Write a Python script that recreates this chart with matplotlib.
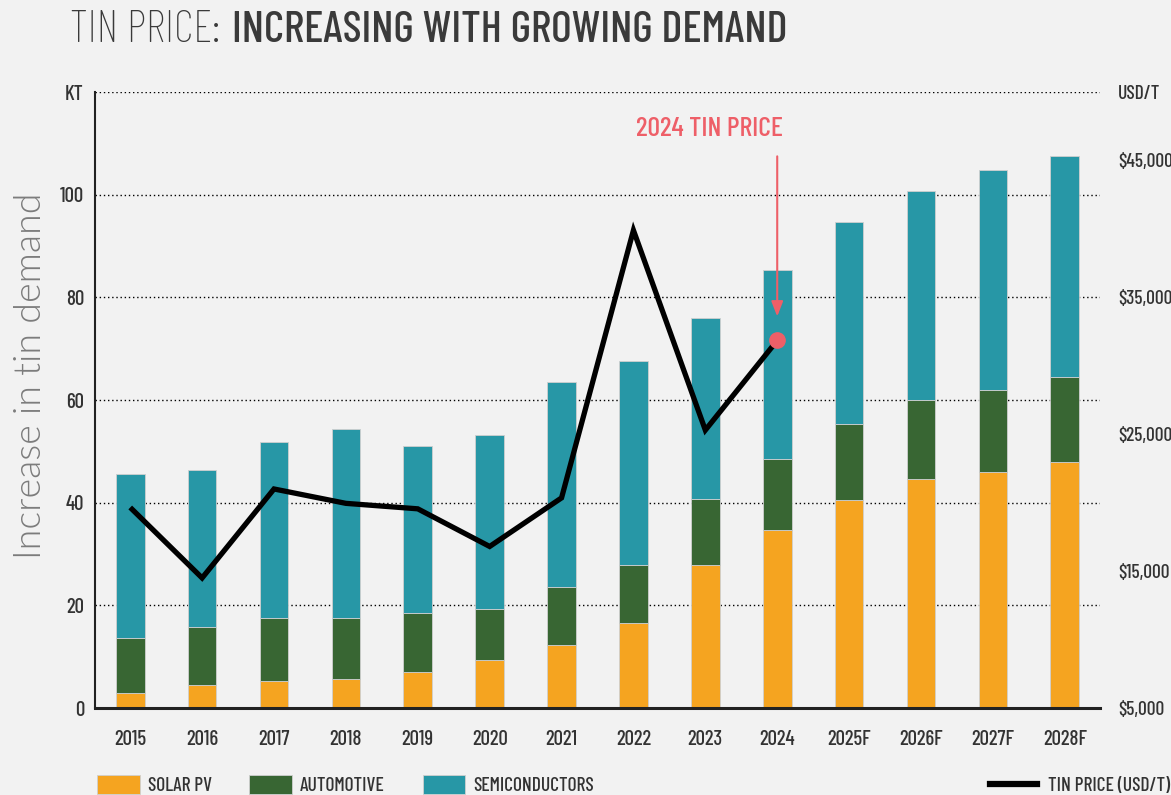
import matplotlib
matplotlib.use('Agg')
import matplotlib.pyplot as plt
from matplotlib import font_manager as fm
from matplotlib.patches import Patch
from matplotlib.lines import Line2D

# ---------------- data ----------------
years = ['2015', '2016', '2017', '2018', '2019', '2020', '2021', '2022', '2023',
         '2024', '2025F', '2026F', '2027F', '2028F']
solar_pv = [2.9, 4.5, 5.2, 5.6, 7.1, 9.3, 12.2, 16.6, 27.9, 34.7, 40.6, 44.6, 45.9, 47.9]
automotive = [10.7, 11.3, 12.3, 11.9, 11.5, 10.0, 11.4, 11.3, 12.9, 13.9, 14.7, 15.4, 16.0, 16.6]
semiconductors = [32.0, 30.5, 34.4, 36.8, 32.4, 33.9, 40.0, 39.7, 35.2, 36.7, 39.4, 40.7, 42.9, 43.0]
price_years = ['2015', '2016', '2017', '2018', '2019', '2020', '2021', '2022', '2023', '2024']
tin_price = [19650, 14500, 21000, 19950, 19550, 16800, 20350, 39900, 25300, 31850]

left_ticks = [0, 20, 40, 60, 80, 100, 120]
left_labels = ['0', '20', '40', '60', '80', '100', 'KT']
right_ticks = [5000, 15000, 25000, 35000, 45000, 50000]
right_labels = ['\\$5,000', '\\$15,000', '\\$25,000', '\\$35,000', '\\$45,000', 'USD/T']

# ---------------- style ----------------
avail = {f.name for f in fm.fontManager.ttflist}
COND = 'Barlow Condensed' if 'Barlow Condensed' in avail else 'DejaVu Sans'
BG = '#F2F2F2'
C_SOLAR = '#F5A420'
C_AUTO = '#386633'
C_SEMI = '#2797A6'
C_RED = '#EE5F68'
TXT = '#333333'

plt.rcParams['font.family'] = [COND, 'DejaVu Sans']
plt.rcParams['font.weight'] = 500

fig = plt.figure(figsize=(11.71, 7.95), dpi=100, facecolor=BG)
ax = fig.add_axes([95 / 1171, 1 - 708 / 795, (1100 - 95) / 1171, (708 - 92) / 795])
ax.set_facecolor(BG)

x = list(range(len(years)))
bottom2 = [a + b for a, b in zip(solar_pv, automotive)]
kw = dict(width=0.4, edgecolor='#cfcfcf', linewidth=0.6, zorder=2)
ax.bar(x, solar_pv, color=C_SOLAR, label='SOLAR PV', **kw)
ax.bar(x, automotive, bottom=solar_pv, color=C_AUTO, label='AUTOMOTIVE', **kw)
ax.bar(x, semiconductors, bottom=bottom2, color=C_SEMI, label='SEMICONDUCTORS', **kw)

ax.set_xlim(-0.49, len(years) - 0.51)
ax.set_ylim(0, 120)
ax.set_yticks(left_ticks)
ax.set_yticklabels(left_labels)
ax.set_xticks(x)
ax.set_xticklabels(years)
ax.tick_params(axis='y', length=0, pad=8, labelsize=15, labelcolor=TXT)
ax.tick_params(axis='x', length=0, pad=16, labelsize=15, labelcolor=TXT)
ax.grid(axis='y', linestyle=(0, (1, 2)), color='black', linewidth=1.0)
ax.set_axisbelow(True)
for s in ['top', 'right']:
    ax.spines[s].set_visible(False)
ax.spines['left'].set_linewidth(1.5)
ax.spines['left'].set_color('#222222')
ax.spines['bottom'].set_linewidth(2.2)
ax.spines['bottom'].set_color('#222222')

ax.set_ylabel('Increase in tin demand', family=['Lato', 'DejaVu Sans'], fontweight=300,
              fontsize=27, color='#7c7c7c', va='center')
ax.yaxis.set_label_coords(-0.064, 0.54)

ax2 = ax.twinx()
ax2.set_ylim(5000, 50000)
ax2.set_yticks(right_ticks)
ax2.set_yticklabels(right_labels)
ax2.tick_params(axis='y', length=0, pad=13, labelsize=14, labelcolor=TXT)
for s in ax2.spines.values():
    s.set_visible(False)

px = list(range(len(price_years)))
ax2.plot(px, tin_price, color='black', linewidth=3.8, solid_joinstyle='miter',
         solid_capstyle='butt', zorder=3, label='TIN PRICE (USD/T)')
ax2.plot([px[-1]], [tin_price[-1]], 'o', color=C_RED, markersize=11, zorder=4)
ax2.annotate('', xy=(px[-1], 33600), xytext=(px[-1], 45300),
             arrowprops=dict(arrowstyle='-|>,head_length=0.9,head_width=0.35',
                             color=C_RED, lw=1.5, shrinkA=0, shrinkB=0))
ax2.text(8.06, 47300, '2024 TIN PRICE', color=C_RED, fontsize=20, ha='center', va='center')

# title
fig.text(70 / 1171, 1 - 31 / 795, 'TIN PRICE:', fontsize=32, fontweight=250, color='#3a3a3a',
         va='center', ha='left')
fig.text(232 / 1171, 1 - 31 / 795, 'INCREASING WITH GROWING DEMAND', fontsize=32,
         fontweight=500, color='#3a3a3a', va='center', ha='left')

# legends
h_bars = [Patch(facecolor=C_SOLAR, edgecolor='#cfcfcf', lw=0.6, label='SOLAR PV'),
          Patch(facecolor=C_AUTO, edgecolor='#cfcfcf', lw=0.6, label='AUTOMOTIVE'),
          Patch(facecolor=C_SEMI, edgecolor='#cfcfcf', lw=0.6, label='SEMICONDUCTORS')]
fig.legend(handles=h_bars, loc='lower left', bbox_to_anchor=(97 / 1171, 0.0), ncol=3,
           frameon=False, fontsize=14, handlelength=2.2, handleheight=1.15,
           handletextpad=0.4, columnspacing=1.95, borderpad=0, borderaxespad=0,
           labelcolor=TXT)
fig.legend(handles=[Line2D([], [], color='black', lw=4.5, label='TIN PRICE (USD/T)')],
           loc='lower right', bbox_to_anchor=(1170 / 1171, 0.0), frameon=False, fontsize=14,
           handlelength=2.45, handletextpad=0.55, borderpad=0, borderaxespad=0,
           labelcolor=TXT)

fig.savefig('out.png', dpi=100, facecolor=BG)
